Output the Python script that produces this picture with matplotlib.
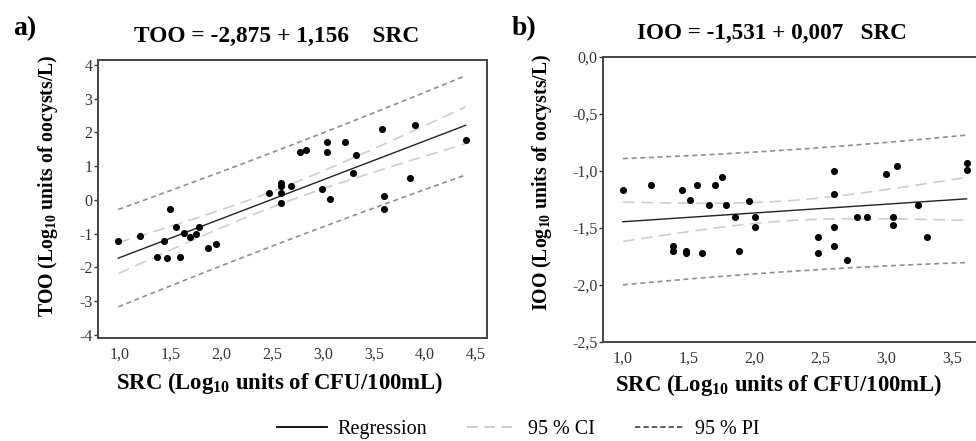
import numpy as np
import matplotlib
matplotlib.use("Agg")
import matplotlib.pyplot as plt
from matplotlib.lines import Line2D
from matplotlib.ticker import FuncFormatter

plt.rcParams['font.family'] = 'Liberation Serif'
plt.rcParams['mathtext.fontset'] = 'custom'
plt.rcParams['mathtext.rm'] = 'Liberation Serif'
plt.rcParams['mathtext.bf'] = 'Liberation Serif:bold'

# panel a: TOO vs SRC
src_a = [0.99, 1.20, 1.37, 1.44, 1.47, 1.50, 1.56, 1.60, 1.63, 1.69, 1.75, 1.78,
         1.87, 1.95, 2.47, 2.59, 2.59, 2.59, 2.59, 2.69, 2.77, 2.83, 2.99, 3.04,
         3.04, 3.07, 3.22, 3.29, 3.32, 3.58, 3.60, 3.60, 3.85, 3.90, 4.40]
too = [-1.22, -1.08, -1.70, -1.22, -1.72, -0.28, -0.80, -1.70, -0.98, -1.10, -1.02, -0.82,
       -1.42, -1.32, 0.20, 0.50, 0.40, 0.20, -0.10, 0.40, 1.42, 1.47, 0.33, 1.73,
       1.42, 0.02, 1.73, 0.80, 1.32, 2.09, 0.10, -0.27, 0.65, 2.22, 1.77]
coef_a = (-2.875, 1.156)

# panel b: IOO vs SRC
src_b = [1.00, 1.21, 1.38, 1.38, 1.45, 1.48, 1.48, 1.51, 1.56, 1.60, 1.65, 1.70,
         1.75, 1.78, 1.85, 1.88, 1.96, 2.00, 2.00, 2.48, 2.48, 2.60, 2.60, 2.60,
         2.60, 2.70, 2.78, 2.85, 3.00, 3.05, 3.05, 3.08, 3.24, 3.31, 3.61, 3.61]
ioo = [-1.17, -1.12, -1.66, -1.70, -1.17, -1.70, -1.72, -1.25, -1.12, -1.72, -1.30, -1.12,
       -1.05, -1.30, -1.40, -1.70, -1.26, -1.40, -1.49, -1.58, -1.72, -1.00, -1.20, -1.49,
       -1.66, -1.78, -1.40, -1.40, -1.03, -1.40, -1.47, -0.96, -1.30, -1.58, -0.93, -0.99]
coef_b = (-1.522, 0.077)

T_VAL = 2.03
tick_col = '#333333'
spine_col = '#444444'


def panel(ax, x, y, coef, ylim, xlim, yticks, xticks, ndec_y):
    x = np.array(x)
    y = np.array(y)
    b0, b1 = coef
    n = len(x)
    resid = y - (b0 + b1 * x)
    s = np.sqrt(np.sum(resid ** 2) / (n - 2))
    xm = x.mean()
    sxx = np.sum((x - xm) ** 2)
    xs = np.linspace(x.min(), x.max(), 100)
    yh = b0 + b1 * xs
    h = 1.0 / n + (xs - xm) ** 2 / sxx
    ci = T_VAL * s * np.sqrt(h)
    pi = T_VAL * s * np.sqrt(1 + h)

    ax.plot(xs, yh + pi, color='#8f8f8f', lw=1.2, dashes=(3, 2.2))
    ax.plot(xs, yh - pi, color='#8f8f8f', lw=1.2, dashes=(3, 2.2))
    ax.plot(xs, yh + ci, color='#cdcdcd', lw=1.2, dashes=(7, 4))
    ax.plot(xs, yh - ci, color='#cdcdcd', lw=1.2, dashes=(7, 4))
    ax.plot(xs, yh, color='#222222', lw=1.0)
    ax.scatter(x, y, s=26, color='black', zorder=3, linewidths=0)

    ax.set_xlim(xlim)
    ax.set_ylim(ylim)
    ax.set_xticks(xticks)
    ax.set_yticks(yticks)
    ax.xaxis.set_major_formatter(FuncFormatter(lambda v, p: ('%.1f' % v).replace('.', ',')))
    if ndec_y:
        ax.yaxis.set_major_formatter(FuncFormatter(lambda v, p: ('%.1f' % v).replace('.', ',')))
    else:
        ax.yaxis.set_major_formatter(FuncFormatter(lambda v, p: '%d' % round(v)))
    ax.tick_params(axis='y', length=3, width=1, pad=1, labelsize=11.5, colors=tick_col)
    ax.tick_params(axis='x', length=0, pad=6, labelsize=11.5, colors=tick_col)
    for sp in ax.spines.values():
        sp.set_color(spine_col)
        sp.set_linewidth(1.4)


fig = plt.figure(figsize=(9.76, 4.41), dpi=100)

ax1 = fig.add_axes([0.1004, 0.2336, 0.3986, 0.6304])
panel(ax1, src_a, too, coef_a, (-4.1, 4.15), (0.79, 4.61),
      [-4, -3, -2, -1, 0, 1, 2, 3, 4], [1.0, 1.5, 2.0, 2.5, 3.0, 3.5, 4.0, 4.5], 0)

ax2 = fig.add_axes([0.6178, 0.2245, 0.3914, 0.6462])
panel(ax2, src_b, ioo, coef_b, (-2.5, 0.0), (0.848, 3.75),
      [-2.5, -2.0, -1.5, -1.0, -0.5, 0.0], [1.0, 1.5, 2.0, 2.5, 3.0, 3.5], 1)

# panel letters and equations
fig.text(0.013, 0.934, 'a)', fontsize=20, fontweight='bold', va='center')
fig.text(0.524, 0.936, 'b)', fontsize=20, fontweight='bold', va='center')
fig.text(0.283, 0.918, 'TOO = -2,875 + 1,156    SRC', fontsize=16.8, fontweight='bold',
         ha='center', va='center')
fig.text(0.791, 0.925, 'IOO = -1,531 + 0,007   SRC', fontsize=16.7, fontweight='bold',
         ha='center', va='center')

# axis labels
fig.text(0.049, 0.58, r'TOO (Log$_{\mathbf{10}}$ units of oocysts/L)', rotation=90,
         fontsize=14.2, fontweight='bold', ha='center', va='center')
fig.text(0.555, 0.587, r'IOO (Log$_{\mathbf{10}}$ units of oocysts/L)', rotation=90,
         fontsize=14.2, fontweight='bold', ha='center', va='center')
fig.text(0.287, 0.132, r'SRC (Log$_{\mathbf{10}}$ units of CFU/100mL)',
         fontsize=16.4, fontweight='bold', ha='center', va='center')
fig.text(0.798, 0.127, r'SRC (Log$_{\mathbf{10}}$ units of CFU/100mL)',
         fontsize=16.4, fontweight='bold', ha='center', va='center')

# legend
handles = [Line2D([], [], color='black', lw=1.3),
           Line2D([], [], color='#c8c8c8', lw=1.3, dashes=(6, 3.5)),
           Line2D([], [], color='#333333', lw=1.1, dashes=(3.5, 2))]
fig.legend(handles, ['Regression', '95 % CI', '95 % PI'], loc='center',
           bbox_to_anchor=(0.531, 0.026), ncol=3, frameon=False, fontsize=14.5,
           handlelength=2.5, handletextpad=0.5, columnspacing=2.0,
           borderpad=0.1)

fig.savefig('out.png', dpi=100, facecolor='white')
